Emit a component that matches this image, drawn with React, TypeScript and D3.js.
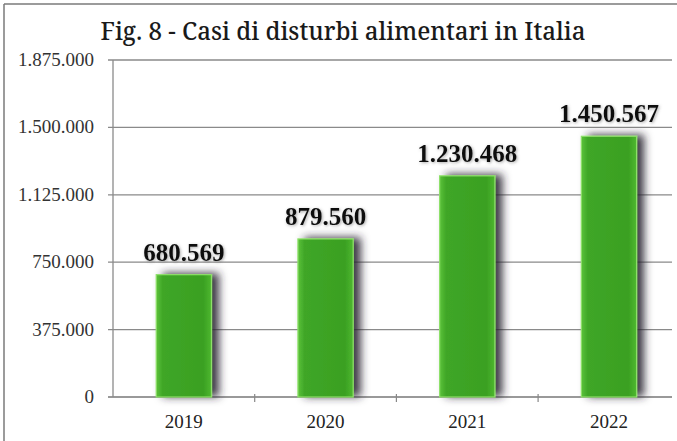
import React from "react";
import * as d3 from "d3";

const years = ["2019", "2020", "2021", "2022"];
const cases = [680569, 879560, 1230468, 1450567];
const valueLabels = ["680.569", "879.560", "1.230.468", "1.450.567"];
const yTicks = [0, 375000, 750000, 1125000, 1500000, 1875000];
const yTickLabels = ["0", "375.000", "750.000", "1.125.000", "1.500.000", "1.875.000"];
const title = "Fig. 8 - Casi di disturbi alimentari in Italia";

const W = 677;
const H = 441;
const plotLeft = 113;
const step = 141.7;
const plotTop = 60;
const plotBottom = 397;
const SERIF = "Liberation Serif";

export default function App() {
  const x = d3
    .scaleBand<string>()
    .domain(years)
    .range([plotLeft, plotLeft + step * years.length])
    .paddingInner(0.61)
    .paddingOuter(0.305);
  const y = d3.scaleLinear().domain([0, 1875000]).range([plotBottom, plotTop]);
  const boundaries = years.map((_, i) => plotLeft + step * (i + 1)).slice(0, 3);

  return (
    <svg
      width={W}
      height={H}
      style={{ position: "fixed", left: 0, top: 0, background: "#fff" }}
    >
      <defs>
        <filter id="shadow" x="-50%" y="-20%" width="200%" height="140%">
          <feDropShadow dx="7" dy="-1" stdDeviation="4" floodColor="#2a2233" floodOpacity="0.9" />
        </filter>
        <filter id="tshadow" x="-20%" y="-40%" width="140%" height="180%">
          <feDropShadow dx="1" dy="1" stdDeviation="1.5" floodColor="#555" floodOpacity="0.5" />
        </filter>
        <linearGradient id="barGrad" x1="0" x2="1" y1="0" y2="0">
          <stop offset="0" stopColor="#5cc23a" />
          <stop offset="0.12" stopColor="#3fa627" />
          <stop offset="0.85" stopColor="#3aa022" />
          <stop offset="1" stopColor="#4fb830" />
        </linearGradient>
      </defs>
      <rect x={0} y={0} width={W} height={H} fill="#fff" />
      {/* frame */}
      <line x1={4} x2={W} y1={4} y2={4} stroke="#7a7a7a" strokeWidth={1.5} />
      <line x1={4} x2={4} y1={4} y2={H} stroke="#7a7a7a" strokeWidth={1.5} />

      <text
        x={343}
        y={40}
        textAnchor="middle"
        style={{ fontFamily: "Noto Serif", fontWeight: 500, fontSize: 25 }}
        fill="#1a1a1a"
        textLength={485}
        lengthAdjust="spacingAndGlyphs"
      >
        {title}
      </text>

      {/* gridlines */}
      {yTicks.map((t, i) => (
        <g key={t}>
          <line
            x1={plotLeft - 5}
            x2={672}
            y1={y(t)}
            y2={y(t)}
            stroke={i === 0 ? "#777" : "#8a8a8a"}
            strokeWidth={1.3}
          />
          <text
            x={94}
            y={y(t) + 6}
            textAnchor="end"
            style={{ fontFamily: SERIF, fontSize: 19 }}
            fill="#333"
          >
            {yTickLabels[i]}
          </text>
        </g>
      ))}
      <line x1={plotLeft} x2={plotLeft} y1={plotTop} y2={plotBottom} stroke="#8a8a8a" strokeWidth={1.3} />
      {boundaries.map((b) => (
        <line key={b} x1={b} x2={b} y1={plotBottom - 3} y2={plotBottom + 5} stroke="#888" strokeWidth={1.2} />
      ))}

      {/* bars */}
      {years.map((yr, i) => {
        const bx = x(yr) as number;
        const by = y(cases[i]);
        return (
          <g key={yr}>
            <rect
              x={bx}
              y={by}
              width={x.bandwidth()}
              height={plotBottom - by}
              fill="url(#barGrad)"
              stroke="#8ee06a"
              strokeWidth={1.2}
              filter="url(#shadow)"
            />
            <text
              x={bx + x.bandwidth() / 2}
              y={by - 14}
              textAnchor="middle"
              style={{ fontFamily: SERIF, fontWeight: "bold", fontSize: 25 }}
              fill="#111"
              filter="url(#tshadow)"
            >
              {valueLabels[i]}
            </text>
            <text
              x={bx + x.bandwidth() / 2}
              y={428}
              textAnchor="middle"
              style={{ fontFamily: SERIF, fontSize: 19 }}
              fill="#222"
            >
              {yr}
            </text>
          </g>
        );
      })}
    </svg>
  );
}
